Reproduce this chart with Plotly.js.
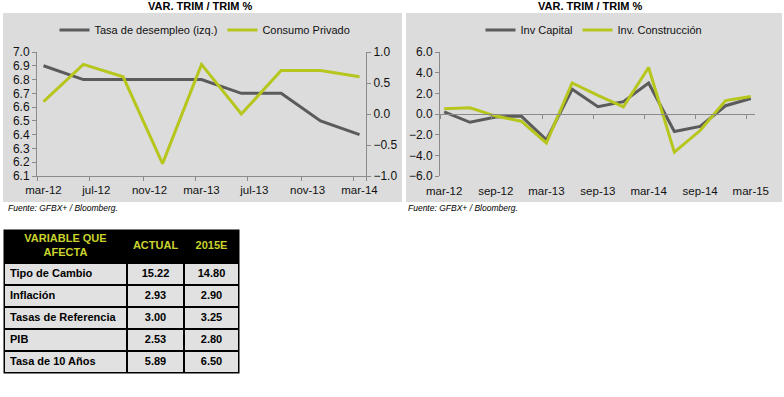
<!DOCTYPE html>
<html>
<head>
<meta charset="utf-8">
<script src="https://cdn.plot.ly/plotly-3.0.1.min.js"></script>
<style>html,body{margin:0;padding:0;background:#fff;}#chart{width:784px;height:397px;}</style>
</head>
<body>
<div id="chart"></div>
<script>
// ---------- DATA ----------
const leftDates = ['2012-03-01','2012-06-01','2012-09-01','2012-12-01','2013-03-01','2013-06-01','2013-09-01','2013-12-01','2014-03-01'];
const desempleo = [6.9, 6.8, 6.8, 6.8, 6.8, 6.7, 6.7, 6.5, 6.4];
const consumoPrivado = [0.2, 0.8, 0.6, -0.8, 0.8, 0.0, 0.7, 0.7, 0.6];
const leftTickVals = ['2012-03-01','2012-07-01','2012-11-01','2013-03-01','2013-07-01','2013-11-01','2014-03-01'];
const leftTickText = ['mar-12','jul-12','nov-12','mar-13','jul-13','nov-13','mar-14'];

const rightDates = ['2012-03-01','2012-06-01','2012-09-01','2012-12-01','2013-03-01','2013-06-01','2013-09-01','2013-12-01','2014-03-01','2014-06-01','2014-09-01','2014-12-01','2015-03-01'];
const invCapital = [0.2, -0.8, -0.3, -0.2, -2.5, 2.4, 0.7, 1.2, 3.0, -1.7, -1.2, 0.8, 1.5];
const invConstruccion = [0.5, 0.6, -0.2, -0.7, -2.8, 3.0, 1.8, 0.7, 4.5, -3.7, -1.6, 1.3, 1.7];
const rightTickVals = ['2012-03-01','2012-09-01','2013-03-01','2013-09-01','2014-03-01','2014-09-01','2015-03-01'];
const rightTickText = ['mar-12','sep-12','mar-13','sep-13','mar-14','sep-14','mar-15'];

const tableHeader = ['VARIABLE QUE<br>AFECTA', 'ACTUAL', '2015E'];
const tableVariables = ['Tipo de Cambio', 'Inflación', 'Tasas de Referencia', 'PIB', 'Tasa de 10 Años'];
const tableActual = [15.22, 2.93, 3.00, 2.53, 5.89];
const table2015E = [14.80, 2.90, 3.25, 2.80, 6.50];

const chartTitles = ['VAR. TRIM / TRIM %', 'VAR. TRIM / TRIM %'];
const sourceText = 'Fuente: GFBX+ / Bloomberg.';
</script>
<script>
// ---------- HELPERS / STYLE ----------
const W = 784, H = 397;
const px = v => v / W;
const py = v => 1 - v / H;
function shiftDays(d, days) {
  const t = new Date(d + 'T00:00:00Z');
  t.setUTCDate(t.getUTCDate() + days);
  return t.toISOString().slice(0, 10);
}
const half = d => shiftDays(d, -15);

const GRAY = '#5b5b5b', YEL = '#b6c61c', AX = '#8a8a8a', TXT = '#111';
const FONT = 'Liberation Sans, Arial, sans-serif';
const yDom = [py(176), py(52)];

// table geometry (style, in pixels)
const colW = [123, 57, 55];
const rowH = [33, 22, 22, 22, 22, 22];
const colEdges = colW.reduce((a, w) => (a.push(a[a.length - 1] + w), a), [0]);
const rowEdges = rowH.reduce((a, h) => (a.push(a[a.length - 1] + h), a), [0]);
const tblW = colEdges[colEdges.length - 1], tblH = rowEdges[rowEdges.length - 1];
const tblX0 = 4, tblY0 = 230;
const rowCenters = rowH.map((h, i) => rowEdges[i] + h / 2);
const colCenters = colW.map((w, i) => colEdges[i] + w / 2);
const bodyCenters = rowCenters.slice(1);
const zFill = rowH.map((h, i) => colW.map(() => (i === 0 ? 0 : 1)));

const traces = [
  {x: leftDates, y: desempleo, name: 'Tasa de desempleo (izq.)', type: 'scatter', mode: 'lines',
   line: {color: GRAY, width: 3}, xaxis: 'x', yaxis: 'y', legend: 'legend'},
  {x: leftDates, y: consumoPrivado, name: 'Consumo Privado', type: 'scatter', mode: 'lines',
   line: {color: YEL, width: 3}, xaxis: 'x', yaxis: 'y2', legend: 'legend'},
  {x: rightDates, y: invCapital, name: 'Inv Capital', type: 'scatter', mode: 'lines',
   line: {color: GRAY, width: 3}, xaxis: 'x2', yaxis: 'y3', legend: 'legend2'},
  {x: rightDates, y: invConstruccion, name: 'Inv. Construcción', type: 'scatter', mode: 'lines',
   line: {color: YEL, width: 3}, xaxis: 'x2', yaxis: 'y3', legend: 'legend2'},
  {x: rightDates, y: invCapital, type: 'scatter', mode: 'lines', line: {width: 0}, opacity: 0,
   showlegend: false, hoverinfo: 'skip', xaxis: 'x3', yaxis: 'y3'},
  // table: cell fills
  {type: 'heatmap', x: colEdges, y: rowEdges, z: zFill, xaxis: 'x4', yaxis: 'y4',
   colorscale: [[0, '#000000'], [1, '#e1e1e1']], zmin: 0, zmax: 1, showscale: false,
   xgap: 2, ygap: 2, hoverinfo: 'skip', showlegend: false},
  // header text
  {type: 'scatter', mode: 'text', x: colCenters, y: colW.map(() => rowCenters[0]),
   text: tableHeader.map(h => '<b>' + h + '</b>'), textposition: 'middle center',
   textfont: {family: FONT, size: 11, color: '#c9d42c'}, xaxis: 'x4', yaxis: 'y4',
   showlegend: false, hoverinfo: 'skip'},
  // first column text
  {type: 'scatter', mode: 'text', x: tableVariables.map(() => colEdges[0] + 6), y: bodyCenters,
   text: tableVariables.map(v => '<b>' + v + '</b>'), textposition: 'middle right',
   textfont: {family: FONT, size: 11, color: '#000'}, xaxis: 'x4', yaxis: 'y4',
   showlegend: false, hoverinfo: 'skip'},
  {type: 'scatter', mode: 'text', x: tableActual.map(() => colCenters[1]), y: bodyCenters,
   text: tableActual.map(v => '<b>' + v.toFixed(2) + '</b>'), textposition: 'middle center',
   textfont: {family: FONT, size: 11, color: '#000'}, xaxis: 'x4', yaxis: 'y4',
   showlegend: false, hoverinfo: 'skip'},
  {type: 'scatter', mode: 'text', x: table2015E.map(() => colCenters[2]), y: bodyCenters,
   text: table2015E.map(v => '<b>' + v.toFixed(2) + '</b>'), textposition: 'middle center',
   textfont: {family: FONT, size: 11, color: '#000'}, xaxis: 'x4', yaxis: 'y4',
   showlegend: false, hoverinfo: 'skip'}
];

const leftRange = [half(leftDates[0]), shiftDays(leftDates[leftDates.length - 1], 15)];
const rightRange = [half(rightDates[0]), shiftDays(rightDates[rightDates.length - 1], 15)];
const leftMinor = leftTickVals.map(half).concat([leftRange[1]]);
const rightMinor = rightTickVals.map(half);

const xTickFont = {family: FONT, size: 11.5, color: TXT};
const yTickFont = {family: FONT, size: 12, color: TXT};
const noAxis = {showline: false, showgrid: false, zeroline: false, showticklabels: false, ticks: '', fixedrange: true};

const layout = {
  width: W, height: H,
  margin: {l: 0, r: 0, t: 0, b: 0},
  paper_bgcolor: '#fff', plot_bgcolor: 'rgba(0,0,0,0)',
  font: {family: FONT, color: TXT},
  showlegend: true,
  xaxis: {domain: [px(37), px(366)], anchor: 'y', type: 'date', range: leftRange,
          tickvals: leftTickVals, ticktext: leftTickText, ticks: '', tickfont: xTickFont,
          ticklabelstandoff: 3,
          showline: true, linecolor: AX, linewidth: 1, showgrid: false, zeroline: false,
          minor: {tickvals: leftMinor, ticks: 'outside', ticklen: 4, tickcolor: AX, showgrid: false}},
  yaxis: {domain: yDom, anchor: 'x', range: [6.1, 7.0], dtick: 0.1, tick0: 6.1, tickformat: '.1f',
          ticks: 'outside', ticklen: 4, tickcolor: AX, showline: true, linecolor: AX,
          showgrid: false, zeroline: false, tickfont: yTickFont},
  yaxis2: {overlaying: 'y', side: 'right', anchor: 'x', range: [-1, 1], dtick: 0.5, tickformat: '.1f',
           ticks: 'outside', ticklen: 4, tickcolor: AX, showline: true, linecolor: AX,
           showgrid: false, zeroline: false, tickfont: yTickFont},
  xaxis2: {domain: [px(440), px(755)], anchor: 'y3', type: 'date', range: rightRange,
           tickvals: rightTickVals, ticktext: rightTickText, ticks: '', tickfont: xTickFont,
           ticklabelstandoff: 6,
           showline: false, showgrid: false, zeroline: false},
  xaxis3: {overlaying: 'x2', anchor: 'free', position: (yDom[0] + yDom[1]) / 2, type: 'date',
           range: rightRange, showticklabels: false, showline: true, linecolor: AX,
           showgrid: false, zeroline: false, tickvals: rightMinor, ticks: 'outside',
           ticklen: 4, tickcolor: AX},
  yaxis3: {domain: yDom, anchor: 'x2', range: [-6, 6], dtick: 2, tickformat: '.1f',
           ticks: 'outside', ticklen: 4, tickcolor: AX, showline: true, linecolor: AX,
           showgrid: false, zeroline: false, tickfont: yTickFont},
  xaxis4: Object.assign({domain: [px(tblX0), px(tblX0 + tblW)], anchor: 'y4', range: [0, tblW]}, noAxis),
  yaxis4: Object.assign({domain: [py(tblY0 + tblH), py(tblY0)], anchor: 'x4', range: [tblH, 0]}, noAxis),
  legend: {orientation: 'h', x: px(205), xanchor: 'center', y: py(30), yanchor: 'middle',
           bgcolor: 'rgba(0,0,0,0)', font: {family: FONT, size: 11, color: TXT}},
  legend2: {orientation: 'h', x: px(594), xanchor: 'center', y: py(30), yanchor: 'middle',
            bgcolor: 'rgba(0,0,0,0)', font: {family: FONT, size: 11, color: TXT}},
  shapes: [
    {type: 'rect', xref: 'paper', yref: 'paper', x0: px(3), x1: px(402), y0: py(202), y1: py(13),
     fillcolor: '#dcdcdc', line: {width: 0}, layer: 'below'},
    {type: 'rect', xref: 'paper', yref: 'paper', x0: px(406), x1: px(782), y0: py(202), y1: py(13),
     fillcolor: '#dcdcdc', line: {width: 0}, layer: 'below'},
    {type: 'rect', xref: 'paper', yref: 'paper', x0: px(tblX0 - 0.5), x1: px(tblX0 + tblW + 0.5),
     y0: py(tblY0 + tblH + 0.5), y1: py(tblY0 - 0.5),
     fillcolor: '#000', line: {width: 0}, layer: 'below'}
  ],
  annotations: [
    {text: '<b>' + chartTitles[0] + '</b>', xref: 'paper', yref: 'paper', x: px(200), y: py(6),
     xanchor: 'center', yanchor: 'middle', showarrow: false, font: {family: FONT, size: 11, color: '#000'}},
    {text: '<b>' + chartTitles[1] + '</b>', xref: 'paper', yref: 'paper', x: px(590), y: py(6),
     xanchor: 'center', yanchor: 'middle', showarrow: false, font: {family: FONT, size: 11, color: '#000'}},
    {text: '<i>' + sourceText + '</i>', xref: 'paper', yref: 'paper', x: px(6), y: py(208),
     xanchor: 'left', yanchor: 'middle', showarrow: false, font: {family: FONT, size: 8.5, color: '#000'}},
    {text: '<i>' + sourceText + '</i>', xref: 'paper', yref: 'paper', x: px(406), y: py(208),
     xanchor: 'left', yanchor: 'middle', showarrow: false, font: {family: FONT, size: 8.5, color: '#000'}}
  ]
};

Plotly.newPlot('chart', traces, layout, {staticPlot: true, displayModeBar: false});
</script>
</body>
</html>
